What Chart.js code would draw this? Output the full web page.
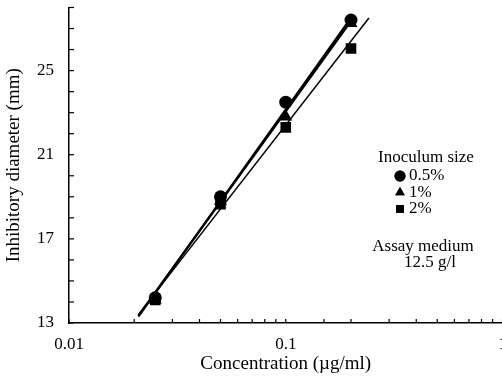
<!DOCTYPE html>
<html>
<head>
<meta charset="utf-8">
<script src="https://cdn.jsdelivr.net/npm/chart.js@4/dist/chart.umd.min.js"></script>
<style>
  html, body { margin: 0; padding: 0; background: #fff; overflow: hidden; }
  #wrap { width: 510px; height: 378px; position: relative; }
</style>
</head>
<body>
<div id="wrap"><canvas id="chart"></canvas></div>
<script>
// concentrations (µg/ml) and inhibitory diameters (mm)
const concentrations = [0.025, 0.05, 0.1, 0.2];
const inoc05 = [14.2, 19.0, 23.5, 27.4];
const inoc1 = [14.1, 18.8, 22.8, 27.25];
const inoc2 = [14.1, 18.65, 22.3, 26.05];

const fit05 = [{ x: 0.0209, y: 13.3 }, { x: 0.203, y: 27.6 }];
const fit1 = [{ x: 0.0209, y: 13.35 }, { x: 0.203, y: 27.45 }];
const fit2 = [{ x: 0.0209, y: 13.4 }, { x: 0.242, y: 27.5 }];

const yLabels = [13, 17, 21, 25];
const xLabels = [0.01, 0.1, 1];

const legendItems = ['0.5%', '1%', '2%'];
const legendStyles = ['circle', 'triangle', 'rect'];

const serif = "'Liberation Serif', 'DejaVu Serif', serif";

const toPoints = ys => ys.map((y, i) => ({ x: concentrations[i], y }));

function lineSet(data, width) {
    return {
        data, showLine: true, borderColor: '#000', borderWidth: width,
        pointRadius: 0, fill: false, order: 2
    };
}
function pointSet(ys, style, r) {
    return {
        data: toPoints(ys), showLine: false, pointStyle: style,
        pointRadius: r, backgroundColor: '#000', borderColor: '#000',
        borderWidth: 0, order: 1
    };
}

// tick marks pointing into the plot, and the legend block
const insideTicks = {
    id: 'insideTicks',
    afterDraw(chart) {
        const ctx = chart.ctx;
        const x = chart.scales.x, y = chart.scales.y;
        ctx.save();
        ctx.strokeStyle = '#000';
        ctx.lineWidth = 1.2;
        x.ticks.forEach(t => {
            const px = x.getPixelForValue(t.value);
            ctx.beginPath();
            ctx.moveTo(px, x.top);
            ctx.lineTo(px, x.top - 4);
            ctx.stroke();
        });
        y.ticks.forEach(t => {
            const py = y.getPixelForValue(t.value);
            ctx.beginPath();
            ctx.moveTo(y.right, py);
            ctx.lineTo(y.right + 5, py);
            ctx.stroke();
        });

        // legend text
        ctx.fillStyle = '#000';
        ctx.font = '17px ' + serif;
        ctx.textAlign = 'center';
        ctx.textBaseline = 'middle';
        ctx.fillText('Inoculum size', 426, 158);
        ctx.fillText('Assay medium', 423, 247);
        ctx.fillText('12.5 g/l', 430, 263);
        ctx.textAlign = 'left';
        legendItems.forEach((label, i) => {
            const ly = 176 + i * 16.5;
            Chart.helpers.drawPoint(ctx, { pointStyle: legendStyles[i], radius: 5.5, borderWidth: 0 }, 400, ly);
            ctx.fill();
            ctx.fillText(label, 409, ly);
        });
        ctx.restore();
    }
};

new Chart(document.getElementById('chart'), {
    type: 'scatter',
    data: {
        datasets: [
            lineSet(fit05, 2.2),
            lineSet(fit1, 2.2),
            lineSet(fit2, 1.5),
            pointSet(inoc05, 'circle', 6.5),
            pointSet(inoc1, 'triangle', 7.5),
            pointSet(inoc2, 'rect', 7.5)
        ]
    },
    plugins: [insideTicks],
    options: {
        responsive: true,
        maintainAspectRatio: false,
        animation: false,
        layout: { padding: { top: 7, right: 0, left: 0, bottom: 0 } },
        plugins: { legend: { display: false }, tooltip: { enabled: false } },
        scales: {
            x: {
                type: 'logarithmic',
                min: 0.01,
                max: 1,
                grid: { display: false },
                border: { display: true, color: '#000', width: 1.5 },
                ticks: {
                    autoSkip: false,
                    maxRotation: 0,
                    padding: 3,
                    color: '#000',
                    font: { family: serif, size: 17 },
                    callback: v => xLabels.some(l => Math.abs(l - v) < 1e-9) ? String(v) : ''
                },
                title: {
                    display: true,
                    text: 'Concentration (µg/ml)',
                    color: '#000',
                    font: { family: serif, size: 19 },
                    padding: { top: 4, bottom: 3 }
                },
                afterFit(s) { s.height = 55; s.paddingRight = 0; s.paddingLeft = 0; }
            },
            y: {
                min: 13,
                max: 28,
                grid: { display: false },
                border: { display: true, color: '#000', width: 1.5 },
                ticks: {
                    stepSize: 1,
                    autoSkip: false,
                    padding: 7,
                    color: '#000',
                    font: { family: serif, size: 17 },
                    callback: v => yLabels.includes(v) ? String(v) : ''
                },
                title: {
                    display: true,
                    text: 'Inhibitory diameter (mm)',
                    color: '#000',
                    font: { family: serif, size: 19 },
                    padding: { top: 3, bottom: 4 }
                },
                afterFit(s) { s.width = 69; s.paddingTop = 0; s.paddingBottom = 0; }
            }
        }
    }
});
</script>
</body>
</html>
